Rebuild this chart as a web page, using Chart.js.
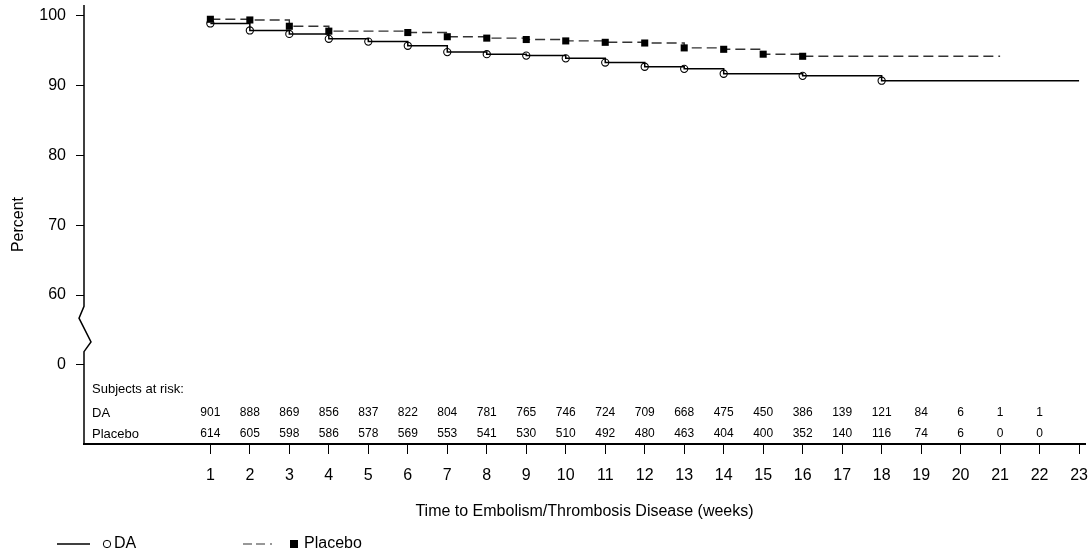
<!DOCTYPE html>
<html lang="en">

<head>
    <meta charset="UTF-8">
    <title>Time to Embolism/Thrombosis Disease</title>
    <script src="https://cdn.jsdelivr.net/npm/chart.js@4.4.1/dist/chart.umd.min.js"></script>
    <style>
        body { margin: 0; background: #fff; }
    </style>
</head>

<body>

    <canvas id="chart" width="1091" height="556"></canvas>

    <script>
        // step points (percent event free)
        const daWeeks = [1, 2, 3, 4, 5, 6, 7, 8, 9, 10, 11, 12, 13, 14, 16, 18, 23];
        const daPercent = [98.9, 97.9, 97.4, 96.7, 96.3, 95.7, 94.8, 94.5, 94.3, 93.9, 93.3, 92.7, 92.4, 91.7, 91.4, 90.7, 90.7];
        const placeboWeeks = [1, 2, 3, 4, 6, 7, 8, 9, 10, 11, 12, 13, 14, 15, 16, 21];
        const placeboPercent = [99.5, 99.4, 98.5, 97.8, 97.6, 97.0, 96.8, 96.6, 96.4, 96.2, 96.1, 95.4, 95.2, 94.5, 94.2, 94.2];

        // subjects at risk table
        const riskWeeks = [1, 2, 3, 4, 5, 6, 7, 8, 9, 10, 11, 12, 13, 14, 15, 16, 17, 18, 19, 20, 21, 22];
        const daAtRisk = [901, 888, 869, 856, 837, 822, 804, 781, 765, 746, 724, 709, 668, 475, 450, 386, 139, 121, 84, 6, 1, 1];
        const placeboAtRisk = [614, 605, 598, 586, 578, 569, 553, 541, 530, 510, 492, 480, 463, 404, 400, 352, 140, 116, 74, 6, 0, 0];

        // axis ticks (the 50 position is shown as "0" because the axis is broken)
        const xTicks = [1, 2, 3, 4, 5, 6, 7, 8, 9, 10, 11, 12, 13, 14, 15, 16, 17, 18, 19, 20, 21, 22, 23];
        const yTicks = [50, 60, 70, 80, 90, 100];
        const yTickLabels = ['0', '60', '70', '80', '90', '100'];

        const FONT = "'Liberation Sans', Arial, sans-serif";

        function toPoints(xs, ys) {
            return xs.map((x, i) => ({ x: x, y: ys[i] }));
        }
        // last point is only the end of the curve, no marker
        function radii(n, r) {
            return Array.from({ length: n }, (_, i) => i === n - 1 ? 0 : r);
        }

        // y axis line with the zigzag break, the at-risk table and the legend
        const extras = {
            id: 'extras',
            afterDraw(chart) {
                const ctx = chart.ctx;
                const xs = chart.scales.x;
                const ys = chart.scales.y;
                const area = chart.chartArea;
                const ax = area.left;

                ctx.save();
                ctx.strokeStyle = '#000';
                ctx.lineWidth = 1.5;
                ctx.beginPath();
                ctx.moveTo(ax, area.top);
                ctx.lineTo(ax, ys.getPixelForValue(58.4));
                ctx.lineTo(ax - 5, ys.getPixelForValue(56.7));
                ctx.lineTo(ax + 7, ys.getPixelForValue(53.3));
                ctx.lineTo(ax, ys.getPixelForValue(51.9));
                ctx.lineTo(ax, area.bottom);
                ctx.stroke();

                // subjects at risk
                ctx.fillStyle = '#000';
                ctx.textBaseline = 'middle';
                ctx.textAlign = 'left';
                ctx.font = '13px ' + FONT;
                ctx.fillText('Subjects at risk:', ax + 8, area.bottom - 55);
                ctx.fillText('DA', ax + 8, area.bottom - 31);
                ctx.fillText('Placebo', ax + 8, area.bottom - 10);
                ctx.textAlign = 'center';
                ctx.font = '12px ' + FONT;
                riskWeeks.forEach((w, i) => {
                    const px = xs.getPixelForValue(w);
                    ctx.fillText(String(daAtRisk[i]), px, area.bottom - 31);
                    ctx.fillText(String(placeboAtRisk[i]), px, area.bottom - 10);
                });

                // legend
                const ly = chart.height - 12;
                ctx.textAlign = 'left';
                ctx.font = '16px ' + FONT;
                ctx.lineWidth = 1.5;
                ctx.beginPath();
                ctx.moveTo(57, ly);
                ctx.lineTo(90, ly);
                ctx.stroke();
                ctx.lineWidth = 1;
                ctx.beginPath();
                ctx.arc(107, ly, 3.7, 0, Math.PI * 2);
                ctx.stroke();
                ctx.fillText('DA', 114, ly);

                ctx.strokeStyle = '#333';
                ctx.lineWidth = 1.2;
                ctx.setLineDash([9, 4, 9, 5, 2, 100]);
                ctx.beginPath();
                ctx.moveTo(243, ly);
                ctx.lineTo(278, ly);
                ctx.stroke();
                ctx.setLineDash([]);
                ctx.fillRect(290, ly - 4, 8, 8);
                ctx.fillText('Placebo', 304, ly);
                ctx.restore();
            }
        };

        const ctx = document.getElementById('chart').getContext('2d');
        const myChart = new Chart(ctx, {
            type: 'line',
            data: {
                datasets: [{
                    label: 'DA',
                    data: toPoints(daWeeks, daPercent),
                    stepped: 'before',
                    borderColor: '#000',
                    borderWidth: 1.5,
                    pointStyle: 'circle',
                    pointRadius: radii(daWeeks.length, 3.6),
                    pointBorderWidth: 1.1,
                    pointBackgroundColor: 'rgba(255,255,255,0)',
                    pointBorderColor: '#000',
                    order: 2
                }, {
                    label: 'Placebo',
                    data: toPoints(placeboWeeks, placeboPercent),
                    stepped: 'before',
                    borderColor: '#333',
                    borderWidth: 1.4,
                    borderDash: [10, 5],
                    pointStyle: 'rect',
                    pointRadius: radii(placeboWeeks.length, 5),
                    pointBorderWidth: 0,
                    pointBackgroundColor: '#000',
                    pointBorderColor: '#000',
                    order: 1
                }]
            },
            options: {
                responsive: false,
                animation: false,
                layout: { padding: { top: 4, right: 6, bottom: 28, left: 0 } },
                plugins: {
                    legend: { display: false },
                    tooltip: { enabled: false }
                },
                scales: {
                    x: {
                        type: 'linear',
                        min: -2.2,
                        max: 23.15,
                        afterBuildTicks: scale => { scale.ticks = xTicks.map(v => ({ value: v })); },
                        afterFit: scale => {
                            scale.height = 84;
                            scale.paddingLeft = 0;
                            scale.paddingRight = 0;
                        },
                        grid: { drawOnChartArea: false, drawTicks: true, tickLength: 10, color: '#000' },
                        border: { display: true, color: '#000', width: 2 },
                        ticks: { color: '#000', font: { family: FONT, size: 16 }, padding: 12, maxRotation: 0 },
                        title: {
                            display: true,
                            text: 'Time to Embolism/Thrombosis Disease (weeks)',
                            color: '#000',
                            font: { family: FONT, size: 16 },
                            padding: { top: 0, bottom: 7 }
                        }
                    },
                    y: {
                        type: 'linear',
                        min: 38.67,
                        max: 101.53,
                        afterBuildTicks: scale => { scale.ticks = yTicks.map(v => ({ value: v })); },
                        afterFit: scale => {
                            scale.width = 84;
                            scale.paddingTop = 0;
                            scale.paddingBottom = 0;
                        },
                        grid: { drawOnChartArea: false, drawTicks: true, tickLength: 8, color: '#000' },
                        border: { display: false },
                        ticks: {
                            color: '#000',
                            font: { family: FONT, size: 16 },
                            padding: 10,
                            callback: function (value) {
                                return yTickLabels[yTicks.indexOf(value)];
                            }
                        },
                        title: {
                            display: true,
                            text: 'Percent',
                            color: '#000',
                            font: { family: FONT, size: 16 },
                            padding: { top: 9, bottom: 0 }
                        }
                    }
                }
            },
            plugins: [extras]
        });
    </script>

</body>

</html>
